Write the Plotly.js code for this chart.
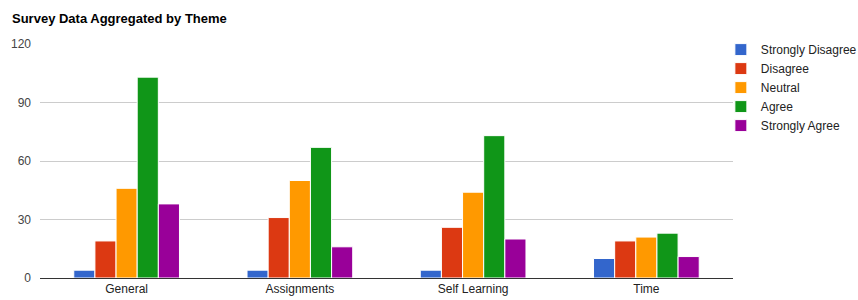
<!DOCTYPE html>
<html><head><meta charset="utf-8">
<script src="https://cdn.plot.ly/plotly-3.0.1.min.js"></script>
<style>body{margin:0;padding:0;background:#fff}#chart{width:858px;height:300px}</style>
</head><body><div id="chart"></div>
<script>
const categories = ["General", "Assignments", "Self Learning", "Time"];
const seriesNames = ["Strongly Disagree", "Disagree", "Neutral", "Agree", "Strongly Agree"];
const stronglyDisagree = [4, 4, 4, 10];
const disagree = [19, 31, 26, 19];
const neutral = [46, 50, 44, 21];
const agree = [103, 67, 73, 23];
const stronglyAgree = [38, 16, 20, 11];
const colors = ["#3366cc", "#dc3912", "#ff9900", "#109618", "#990099"];
const yTicks = [0, 30, 60, 90, 120];

const values = [stronglyDisagree, disagree, neutral, agree, stronglyAgree];
const traces = seriesNames.map((n, i) => ({
  type: "bar", name: n, x: categories, y: values[i],
  marker: {color: colors[i], line: {color: "#ffffff", width: 1}},
  hoverinfo: "x+y+name"
}));

const layout = {
  width: 858, height: 300,
  margin: {l: 40, r: 125, t: 44, b: 22, autoexpand: false},
  paper_bgcolor: "#fff", plot_bgcolor: "#fff",
  font: {family: "Arial, 'Liberation Sans', sans-serif", size: 12, color: "#222"},
  title: {text: "<b>Survey Data Aggregated by Theme</b>", x: 12/858, xanchor: "left", y: 1 - 18/300, yanchor: "middle",
          font: {size: 13, color: "#000"}},
  bargap: 0.39, bargroupgap: 0,
  xaxis: {type: "category", showgrid: false, zeroline: false, showline: true, linecolor: "#333", linewidth: 1,
          ticks: "", tickfont: {size: 12, color: "#222"}, fixedrange: true, automargin: false},
  yaxis: {range: [0, 120], tickvals: yTicks, ticktext: yTicks.map(String), showgrid: true, gridcolor: "#cccccc",
          zeroline: false, showline: false, ticks: "", ticklen: 0, tickfont: {size: 12, color: "#444"},
          ticklabelstandoff: 8, fixedrange: true, automargin: false},
  legend: {x: 0.9825, xanchor: "left", y: 1.038, yanchor: "top", font: {size: 12, color: "#222"},
           itemwidth: 30, tracegroupgap: 0, bgcolor: "rgba(0,0,0,0)"},
  showlegend: true
};
Plotly.newPlot("chart", traces, layout, {displayModeBar: false, staticPlot: true});
</script></body></html>
